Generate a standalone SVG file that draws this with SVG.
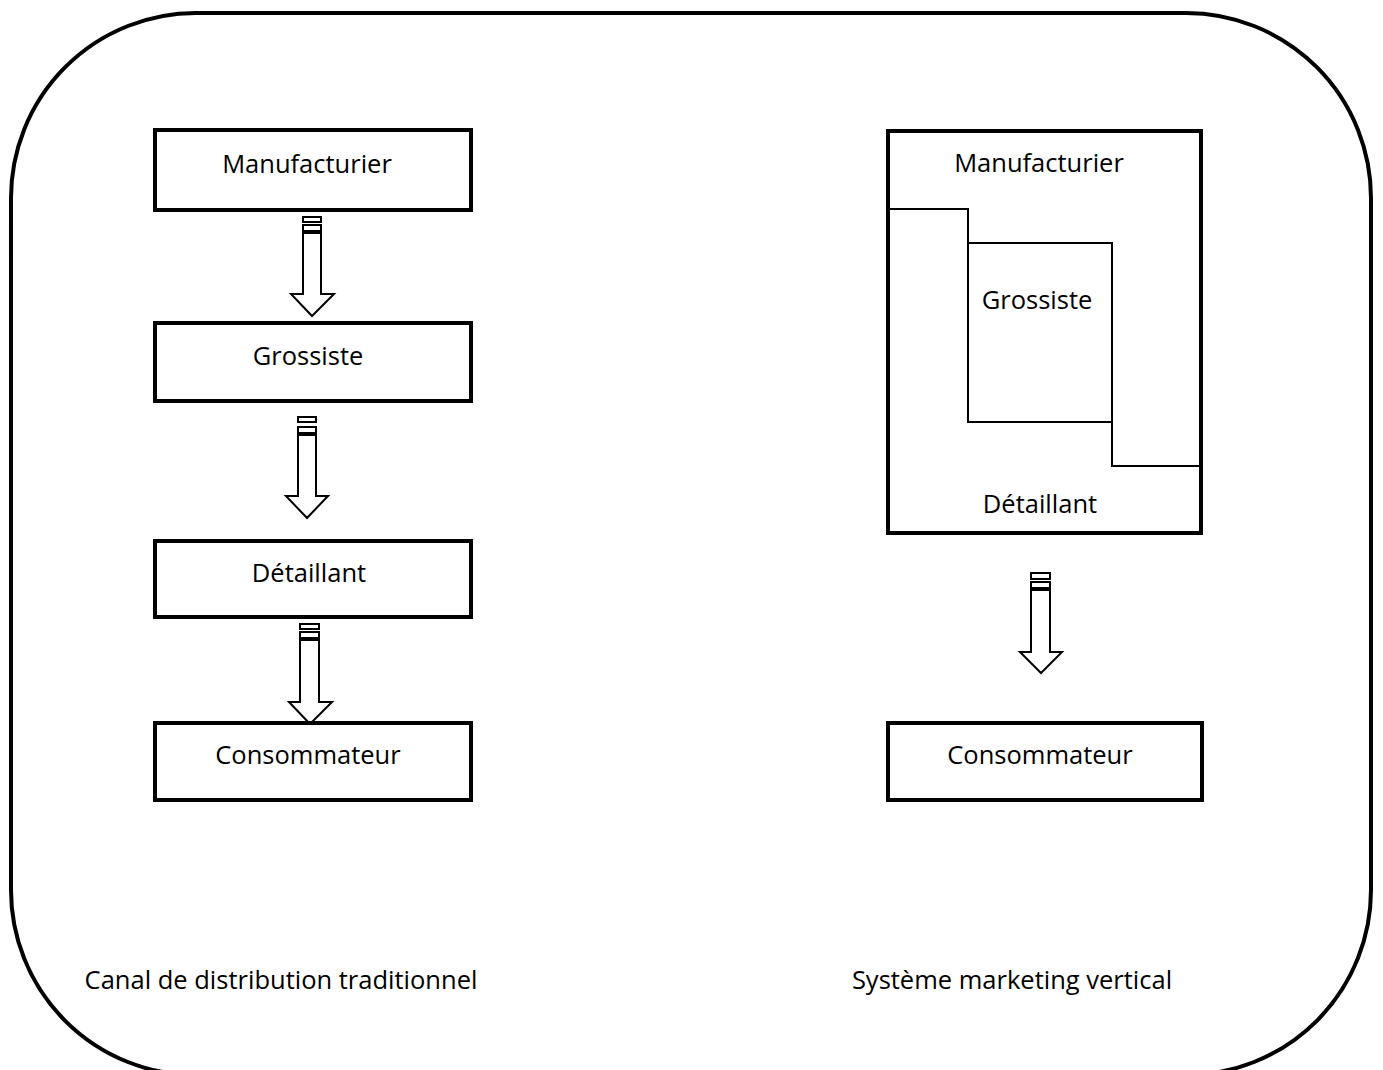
<svg xmlns="http://www.w3.org/2000/svg" width="1383" height="1070" viewBox="0 0 1383 1070">
<style>
.box{fill:#fff;stroke:#000;stroke-width:4}
.thin{fill:none;stroke:#000;stroke-width:2}
.arr{fill:#fff;stroke:#000;stroke-width:2;stroke-linejoin:miter}
text{font-family:"Open Sans","Liberation Sans",sans-serif;font-size:25.5px;fill:#000;text-anchor:middle}
</style>
<rect width="1383" height="1070" fill="#fff"/>
<rect id="frame" x="11" y="13" width="1360" height="1062" rx="185" ry="185" fill="none" stroke="#000" stroke-width="4"/>
<g id="connectors">
<g id="a1"><rect class="arr" x="303" y="217" width="18" height="5"/><rect class="arr" x="303" y="225" width="18" height="6"/><path class="arr" d="M303 233 V294 H291 L312 316 L334 294 H321 V233 Z"/></g>
<g id="a2"><rect class="arr" x="298" y="417" width="18" height="5"/><rect class="arr" x="298" y="427" width="18" height="6"/><path class="arr" d="M298 435 V496 H286 L307 518 L328 496 H316 V435 Z"/></g>
<g id="a3"><rect class="arr" x="300" y="624" width="19" height="5"/><rect class="arr" x="300" y="632" width="19" height="6"/><path class="arr" d="M300 640 V702 H289 L310 724 L332 702 H319 V640 Z"/></g>
<g id="a4"><rect class="arr" x="1031" y="573" width="19" height="6"/><rect class="arr" x="1031" y="582" width="19" height="6"/><path class="arr" d="M1031 590 V652 H1020 L1041 673 L1062 652 H1050 V590 Z"/></g>
</g>
<g id="n-manuf-l"><rect class="box" x="155" y="130" width="316" height="80"/><text x="307" y="173">Manufacturier</text></g>
<g id="n-gross-l"><rect class="box" x="155" y="323" width="316" height="78"/><text x="308" y="365">Grossiste</text></g>
<g id="n-detail-l"><rect class="box" x="155" y="541" width="316" height="76"/><text x="309" y="582">Détaillant</text></g>
<g id="n-conso-l"><rect class="box" x="155" y="723" width="316" height="77"/><text x="308" y="764">Consommateur</text></g>
<g id="n-svm">
<rect class="box" x="888" y="131" width="313" height="402"/>
<polyline class="thin" points="888,209 968,209 968,243"/>
<rect class="thin" x="968" y="243" width="144" height="179"/>
<polyline class="thin" points="1112,422 1112,466 1201,466"/>
<text x="1039" y="172">Manufacturier</text>
<text x="1037" y="309">Grossiste</text>
<text x="1040" y="513">Détaillant</text>
</g>
<g id="n-conso-r"><rect class="box" x="888" y="723" width="314" height="77"/><text x="1040" y="764">Consommateur</text></g>
<text id="cap-l" x="281" y="989">Canal de distribution traditionnel</text>
<text id="cap-r" x="1012" y="989">Système marketing vertical</text>
</svg>
